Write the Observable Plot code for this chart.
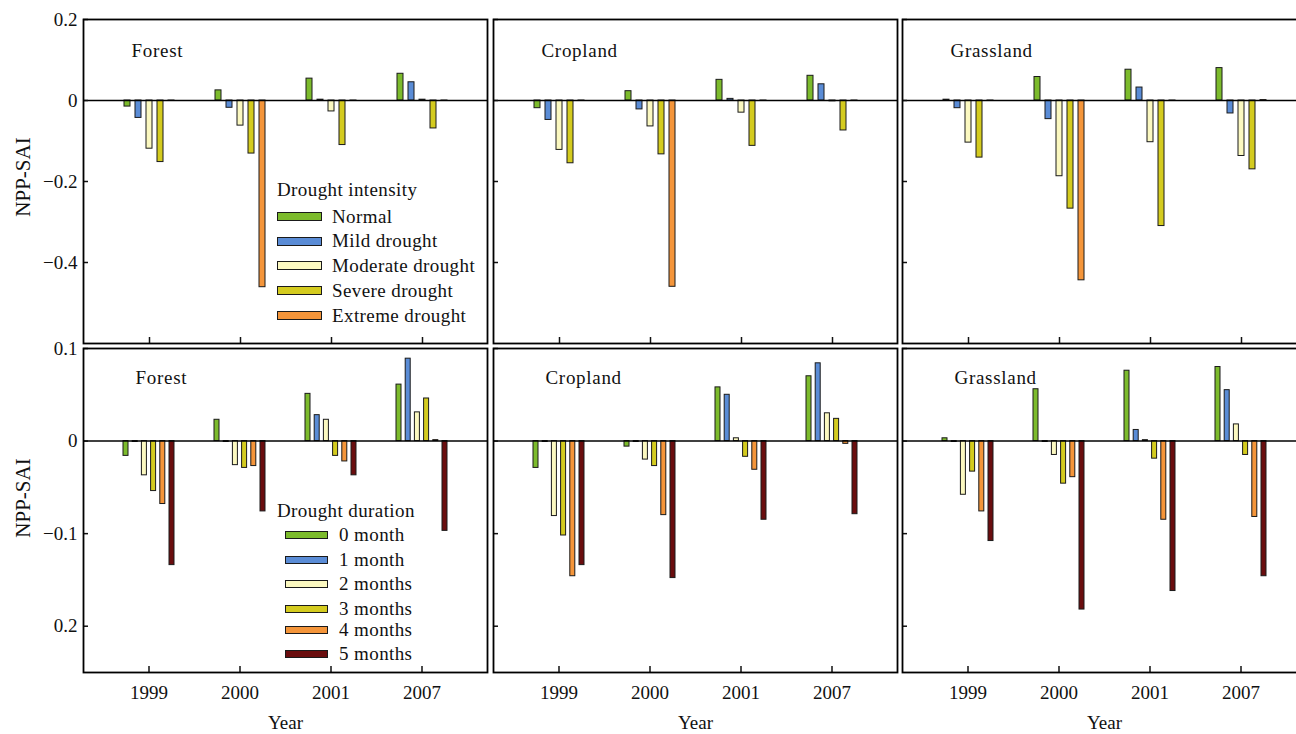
<!DOCTYPE html>
<html>
<head>
<meta charset="utf-8">
<script src="https://cdn.jsdelivr.net/npm/d3@7"></script>
<script src="https://cdn.jsdelivr.net/npm/@observablehq/plot@0.6"></script>
<style>
  html, body { margin: 0; padding: 0; background: #fff; overflow: hidden; }
  #fig { position: relative; width: 1296px; height: 734px; overflow: hidden;
         font-family: "Liberation Serif", "DejaVu Serif", serif; color: #111; }
  #fig svg, #fig svg text { font-family: "Liberation Serif", "DejaVu Serif", serif !important; }
  .panel { position: absolute; }
  .ylab { position: absolute; transform: translate(-50%, -50%) rotate(-90deg);
          white-space: nowrap; font-size: 21px; line-height: 21px; }
  .lg { position: absolute; font-size: 19px; line-height: 20px; letter-spacing: 0.4px; white-space: nowrap; }
  .sw { position: absolute; box-sizing: border-box; border: 1.3px solid #1a1a1a; }
</style>
</head>
<body>
<div id="fig"></div>
<script>
// ---------------- data ----------------
const years = ["1999", "2000", "2001", "2007"];
const landTypes = ["Forest", "Cropland", "Grassland"];

const intensityLevels = ["Normal", "Mild drought", "Moderate drought", "Severe drought", "Extreme drought"];
const durationLevels = ["0 month", "1 month", "2 months", "3 months", "4 months", "5 months"];

// NPP-SAI by drought intensity (rows = level, columns = year)
const forestIntensity = [
  [-0.015, 0.025, 0.054, 0.066],
  [-0.043, -0.018, 0.002, 0.045],
  [-0.119, -0.062, -0.027, 0.002],
  [-0.152, -0.131, -0.110, -0.069],
  [-0.001, -0.461, -0.001, -0.001]
];
const croplandIntensity = [
  [-0.019, 0.023, 0.051, 0.061],
  [-0.048, -0.022, 0.004, 0.040],
  [-0.122, -0.064, -0.030, -0.002],
  [-0.155, -0.133, -0.112, -0.074],
  [-0.001, -0.460, -0.001, -0.001]
];
const grasslandIntensity = [
  [0.002, 0.058, 0.076, 0.080],
  [-0.019, -0.046, 0.032, -0.032],
  [-0.104, -0.187, -0.103, -0.137],
  [-0.141, -0.267, -0.310, -0.170],
  [-0.001, -0.444, -0.001, 0.001]
];

// NPP-SAI by drought duration (rows = duration, columns = year)
const forestDuration = [
  [-0.016, 0.023, 0.051, 0.061],
  [-0.001, -0.001, 0.028, 0.089],
  [-0.037, -0.026, 0.023, 0.031],
  [-0.054, -0.029, -0.016, 0.046],
  [-0.068, -0.027, -0.022, 0.001],
  [-0.134, -0.076, -0.037, -0.097]
];
const croplandDuration = [
  [-0.029, -0.006, 0.058, 0.070],
  [-0.001, -0.001, 0.050, 0.084],
  [-0.081, -0.020, 0.003, 0.030],
  [-0.102, -0.027, -0.017, 0.024],
  [-0.146, -0.080, -0.031, -0.003],
  [-0.134, -0.148, -0.085, -0.079]
];
const grasslandDuration = [
  [0.003, 0.056, 0.076, 0.080],
  [-0.001, -0.001, 0.012, 0.055],
  [-0.058, -0.015, 0.001, 0.018],
  [-0.033, -0.046, -0.019, -0.015],
  [-0.076, -0.039, -0.085, -0.082],
  [-0.108, -0.182, -0.162, -0.146]
];

// axis ticks and their printed labels (as in the original figure)
const topTicks = [0.2, 0, -0.2, -0.4];
const topTickLabels = ["0.2", "0", "\u22120.2", "\u22120.4"];
const bottomTicks = [0.1, 0, -0.1, -0.2];
const bottomTickLabels = ["0.1", "0", "\u22120.1", "0.2"];

const yLabel = "NPP-SAI";
const xLabel = "Year";
const intensityTitle = "Drought intensity";
const durationTitle = "Drought duration";

// ---------------- styles ----------------
const intensityColors = ["#7cbb2c", "#5a8cd6", "#fbf8c0", "#d4cb1f", "#f4953a"];
const durationColors = ["#7cbb2c", "#5a8cd6", "#fbf8c0", "#d4cb1f", "#f4953a", "#6a0d0e"];
const serif = "Liberation Serif, DejaVu Serif, serif";

const fig = document.getElementById("fig");
const innerW = 404, innerH = 324, step = 91.7;
const colLeft = [0, 490, 899];
const colMarginLeft = [83, 3, 3];

function tidy(matrix, levels) {
  const out = [];
  levels.forEach((lev, i) => years.forEach((yr, j) => out.push({year: yr, level: lev, value: matrix[i][j]})));
  return out;
}

function panel({matrix, levels, colors, domain, ticks, tickLabels, name, col, row}) {
  const rows = tidy(matrix, levels);
  const n = levels.length;
  const bw = row === 0 ? 6 : 5;
  const spacing = row === 0 ? 11 : 9.2;
  const pi = 1 - bw / step;
  const po = (innerW / step - years.length + pi) / 2;
  const mTop = row === 0 ? 19 : 2;
  const mBottom = row === 0 ? 3 : 62;
  const marks = [];
  levels.forEach((lev, i) => {
    marks.push(Plot.barY(rows.filter(d => d.level === lev), {
      x: "year", y: "value", fill: "level",
      stroke: "#1a1a1a", strokeWidth: 1,
      dx: (i - (n - 1) / 2) * spacing
    }));
  });
  marks.push(Plot.ruleY([0], {stroke: "#000", strokeWidth: 1.6}));
  marks.push(Plot.axisY(ticks, {tickSize: -5, tickFormat: () => "", strokeWidth: 1.5, label: null}));
  if (col === 0) {
    marks.push(Plot.axisY(ticks, {tickSize: 0, tickPadding: 6, fontSize: 19, fontFamily: serif,
      tickFormat: d => tickLabels[ticks.indexOf(d)], label: null}));
  }
  marks.push(Plot.axisX({tickSize: -6, tickFormat: () => "", strokeWidth: 1.5, label: null}));
  if (row === 1) {
    marks.push(Plot.axisX({tickSize: 0, tickPadding: 12.5, fontSize: 19, fontFamily: serif,
      label: xLabel, labelAnchor: "center", labelOffset: 56}));
  }
  marks.push(Plot.text([name], {frameAnchor: "top-left", dx: row === 0 ? 48 : 52, dy: row === 0 ? 37 : 35.5,
    textAnchor: "start", lineAnchor: "bottom", fontSize: 19, fontFamily: serif, fill: "#111"}));
  marks.push(Plot.frame({stroke: "#000", strokeWidth: 1.8}));

  const svg = Plot.plot({
    width: colMarginLeft[col] + innerW + 3,
    height: mTop + innerH + mBottom,
    marginLeft: colMarginLeft[col], marginRight: 3,
    marginTop: mTop, marginBottom: mBottom,
    x: {domain: years, type: "band", paddingInner: pi, paddingOuter: po, label: null},
    y: {domain, label: null},
    color: {domain: levels, range: colors},
    style: {fontFamily: serif, fontSize: "19px",
            color: "#111", background: "transparent", maxWidth: "none", overflow: "visible"},
    marks
  });
  svg.querySelectorAll('g[aria-label="text"] text').forEach(t => t.style.letterSpacing = "0.7px");
  const wrap = document.createElement("div");
  wrap.className = "panel";
  wrap.style.left = colLeft[col] + "px";
  wrap.style.top = (row === 0 ? 0 : 346) + "px";
  wrap.appendChild(svg);
  fig.appendChild(wrap);
}

const topData = [forestIntensity, croplandIntensity, grasslandIntensity];
const bottomData = [forestDuration, croplandDuration, grasslandDuration];
landTypes.forEach((name, col) => {
  panel({matrix: topData[col], levels: intensityLevels, colors: intensityColors,
    domain: [-0.6, 0.2], ticks: topTicks, tickLabels: topTickLabels, name, col, row: 0});
  panel({matrix: bottomData[col], levels: durationLevels, colors: durationColors,
    domain: [-0.25, 0.1], ticks: bottomTicks, tickLabels: bottomTickLabels, name, col, row: 1});
});

// y-axis titles
[[22.5, 177], [22.5, 498]].forEach(([x, y]) => {
  const d = document.createElement("div");
  d.className = "ylab";
  d.style.left = x + "px"; d.style.top = y + "px";
  d.textContent = yLabel;
  fig.appendChild(d);
});

// legends
function legend(title, levels, colors, {titleX, titleY, swX, swW, swH, textX, rowsY}) {
  const t = document.createElement("div");
  t.className = "lg"; t.textContent = title;
  t.style.left = titleX + "px"; t.style.top = (titleY - 10) + "px";
  fig.appendChild(t);
  levels.forEach((lev, i) => {
    const s = document.createElement("div");
    s.className = "sw";
    s.style.left = swX + "px"; s.style.top = (rowsY[i] - swH / 2) + "px";
    s.style.width = swW + "px"; s.style.height = swH + "px";
    s.style.background = colors[i];
    fig.appendChild(s);
    const l = document.createElement("div");
    l.className = "lg"; l.textContent = lev;
    l.style.left = textX + "px"; l.style.top = (rowsY[i] - 10) + "px";
    fig.appendChild(l);
  });
}
legend(intensityTitle, intensityLevels, intensityColors,
  {titleX: 277, titleY: 190, swX: 277, swW: 45, swH: 9, textX: 332, rowsY: [216.5, 241, 265.5, 290.5, 315.5]});
legend(durationTitle, durationLevels, durationColors,
  {titleX: 277, titleY: 511, swX: 285, swW: 43, swH: 8, textX: 339, rowsY: [535, 560, 584, 609, 630, 654]});
</script>
</body>
</html>
